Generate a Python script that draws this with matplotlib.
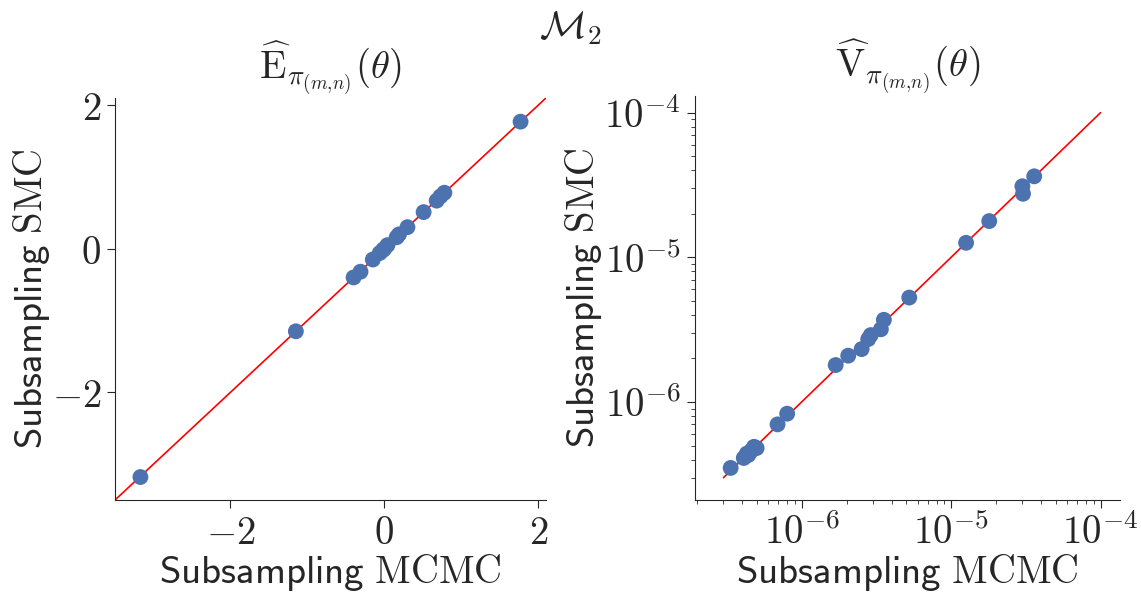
import numpy as np
import matplotlib
matplotlib.use("Agg")
import matplotlib.pyplot as plt
import matplotlib.ticker as mticker
import seaborn as sns

sns.set_style("ticks")
plt.rcParams['font.family'] = ['DejaVu Sans']
plt.rcParams['mathtext.fontset'] = 'cm'

# posterior means: subsampling MCMC vs subsampling SMC
mean_mcmc = [-3.17, -1.15, -0.40, -0.31, -0.15, -0.06, -0.02, 0.00, 0.04,
             0.16, 0.19, 0.30, 0.51, 0.68, 0.73, 0.78, 1.77]
mean_smc = [-3.18, -1.15, -0.40, -0.32, -0.15, -0.06, -0.02, 0.00, 0.05,
            0.16, 0.20, 0.30, 0.51, 0.67, 0.73, 0.78, 1.77]

# posterior variances
var_mcmc = [3.35e-7, 4.1e-7, 4.3e-7, 4.4e-7, 4.6e-7, 4.8e-7, 5.0e-7,
            6.9e-7, 8.0e-7, 1.69e-6, 2.05e-6, 2.52e-6, 2.79e-6, 2.9e-6,
            3.39e-6, 3.55e-6, 5.25e-6, 1.26e-5, 1.8e-5, 3.0e-5, 3.03e-5, 3.6e-5]
var_smc = [3.5e-7, 4.1e-7, 4.4e-7, 4.3e-7, 4.6e-7, 4.9e-7, 4.8e-7,
           7.0e-7, 8.3e-7, 1.8e-6, 2.09e-6, 2.32e-6, 2.72e-6, 2.9e-6,
           3.18e-6, 3.7e-6, 5.27e-6, 1.26e-5, 1.78e-5, 3.1e-5, 2.75e-5, 3.63e-5]

blue = '#4C72B0'
fs = 28

fig = plt.figure(figsize=(11.41, 5.93), dpi=100)
ax1 = fig.add_axes([0.1008, 0.1568, 0.3777, 0.678])
ax2 = fig.add_axes([0.609, 0.1568, 0.3726, 0.681])

# means
lim1 = (-3.5, 2.1)
ax1.plot(lim1, lim1, color='red', lw=1.2, zorder=1)
ax1.scatter(mean_mcmc, mean_smc, s=130, color=blue, edgecolor='none', zorder=2)
ax1.set_xlim(lim1)
ax1.set_ylim(lim1)
ax1.set_xticks([-2, 0, 2])
ax1.set_yticks([-2, 0, 2])
fmt = mticker.FuncFormatter(lambda v, p: f"${v:g}$")
ax1.xaxis.set_major_formatter(fmt)
ax1.yaxis.set_major_formatter(fmt)
ax1.set_title(r"$\widehat{\mathrm{E}}_{\pi_{(m{,}n)}}(\theta)$", fontsize=fs, pad=14)

# variances
lim2 = (3e-7, 1e-4)
ax2.plot(lim2, lim2, color='red', lw=1.2, zorder=1)
ax2.scatter(var_mcmc, var_smc, s=130, color=blue, edgecolor='none', zorder=2)
ax2.set_xscale('log')
ax2.set_yscale('log')
ax2.set_xlim(1.93e-7, 1.35e-4)
ax2.set_ylim(2.1e-7, 1.3e-4)
logfmt = mticker.FuncFormatter(lambda v, p: r"$10^{%d}$" % round(np.log10(v)))
for axis in (ax2.xaxis, ax2.yaxis):
    axis.set_major_locator(mticker.FixedLocator([1e-6, 1e-5, 1e-4]))
    axis.set_major_formatter(logfmt)
    axis.set_minor_locator(mticker.LogLocator(base=10, subs=np.arange(2, 10)))
    axis.set_minor_formatter(mticker.NullFormatter())
ax2.set_title(r"$\widehat{\mathrm{V}}_{\pi_{(m{,}n)}}(\theta)$", fontsize=fs, pad=14)

for ax in (ax1, ax2):
    ax.set_xlabel(r"$\mathsf{Subsampling}\ \mathrm{MCMC}$", fontsize=fs, labelpad=0)
    ax.set_ylabel(r"$\mathsf{Subsampling}\ \mathrm{SMC}$", fontsize=fs, labelpad=0)
    ax.tick_params(axis='both', which='major', labelsize=fs, length=6, pad=4)
    ax.tick_params(axis='both', which='minor', length=3)
    sns.despine(ax=ax)

fig.suptitle(r"$\mathcal{M}_2$", fontsize=fs, y=0.985)
fig.savefig("out.png", dpi=100)
